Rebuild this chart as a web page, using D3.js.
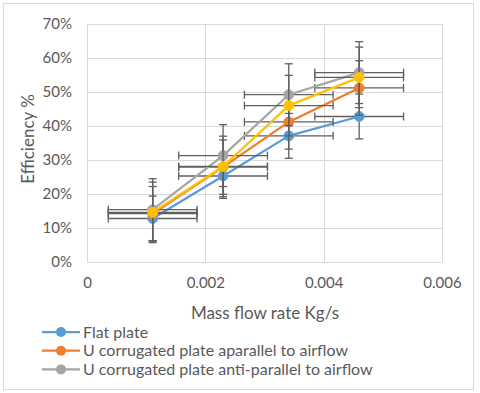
<!DOCTYPE html>
<html>
<head>
<meta charset="utf-8">
<script src="https://cdn.jsdelivr.net/npm/d3@7"></script>
<style>
html,body{margin:0;padding:0;background:#fff;}
svg{display:block;font-family:Lato,"Open Sans",sans-serif;}
</style>
</head>
<body>
<svg id="chart" width="480" height="393"></svg>
<script>
// ---- data ----
const massFlow = [0.00111, 0.00230, 0.00341, 0.00460];
const flatPlate = [12.8, 25.3, 37.1, 42.8];
const uParallel = [14.2, 27.9, 41.2, 51.2];
const uAntiParallel = [15.4, 31.3, 49.2, 55.7];
const series4 = [14.6, 28.1, 46.0, 54.3];
const seriesNames = ["Flat plate", "U corrugated plate aparallel to airflow", "U corrugated plate anti-parallel to airflow", ""];
const yErrors = [6.6, 8.0, 9.1, 8.9];   // ± efficiency (percentage points)
const xError = 0.00075;                 // ± mass flow rate
const yTicks = [0, 10, 20, 30, 40, 50, 60, 70];
const xTicks = [0, 0.002, 0.004, 0.006];
const colors = ["#5B9BD5", "#ED7D31", "#A5A5A5", "#FFC000"];

const allSeries = [flatPlate, uParallel, uAntiParallel, series4];

const svg = d3.select("#chart");
const plot = {left: 87, right: 442, top: 24, bottom: 262};

svg.append("rect").attr("x", 3.5).attr("y", 3.5).attr("width", 470).attr("height", 386)
  .attr("fill", "#fff").attr("stroke", "#D9D9D9").attr("stroke-width", 1);

const x = d3.scaleLinear().domain([0, 0.006]).range([plot.left, plot.right]);
const y = d3.scaleLinear().domain([0, 70]).range([plot.bottom, plot.top]);

// grid
const grid = svg.append("g");
grid.selectAll("line.h").data(yTicks).enter().append("line")
  .attr("x1", plot.left).attr("x2", plot.right)
  .attr("y1", d => Math.round(y(d)) + 0.5).attr("y2", d => Math.round(y(d)) + 0.5)
  .attr("stroke", "#D9D9D9").attr("stroke-width", 1);
grid.selectAll("line.v").data(xTicks).enter().append("line")
  .attr("y1", plot.top).attr("y2", plot.bottom)
  .attr("x1", d => Math.round(x(d)) + 0.5).attr("x2", d => Math.round(x(d)) + 0.5)
  .attr("stroke", "#D9D9D9").attr("stroke-width", 1);

// axes labels via d3 axes
const yAxis = d3.axisLeft(y).tickValues(yTicks).tickFormat(d => d + "%").tickSize(0).tickPadding(15);
const gy = svg.append("g").attr("transform", `translate(${plot.left},0)`).call(yAxis);
gy.select(".domain").remove();
gy.selectAll("text").attr("fill", "#595959").style("font-size", "15px").style("font-family", "Lato, sans-serif");

const xAxis = d3.axisBottom(x).tickValues(xTicks).tickFormat(d => d === 0 ? "0" : d3.format(".3f")(d)).tickSize(0).tickPadding(15);
const gx = svg.append("g").attr("transform", `translate(0,${plot.bottom})`).call(xAxis);
gx.select(".domain").remove();
gx.selectAll("text").attr("fill", "#595959").style("font-size", "15px").style("font-family", "Lato, sans-serif");

// axis titles
svg.append("text").attr("x", 265).attr("y", 319).attr("text-anchor", "middle")
  .attr("fill", "#595959").style("font-size", "17px").text("Mass flow rate Kg/s");
svg.append("text").attr("transform", "translate(34,139) rotate(-90)").attr("text-anchor", "middle")
  .attr("fill", "#595959").style("font-size", "17px").text("Efficiency %");

// series
const line = d3.line().x((d, i) => x(massFlow[i])).y(d => y(d));
const cap = 4;
allSeries.forEach((vals, si) => {
  const g = svg.append("g");
  const e = yErrors[si];
  const eb = g.append("g").attr("stroke", "#5F5F5F").attr("stroke-width", 1.3).attr("fill", "none");
  vals.forEach((v, i) => {
    const cx = x(massFlow[i]), cy = y(v);
    eb.append("line").attr("x1", cx).attr("x2", cx).attr("y1", y(v - e)).attr("y2", y(v + e));
    eb.append("line").attr("x1", cx - cap).attr("x2", cx + cap).attr("y1", y(v - e)).attr("y2", y(v - e));
    eb.append("line").attr("x1", cx - cap).attr("x2", cx + cap).attr("y1", y(v + e)).attr("y2", y(v + e));
    const xl = x(massFlow[i] - xError), xr = x(massFlow[i] + xError);
    eb.append("line").attr("x1", xl).attr("x2", xr).attr("y1", cy).attr("y2", cy);
    eb.append("line").attr("x1", xl).attr("x2", xl).attr("y1", cy - cap).attr("y2", cy + cap);
    eb.append("line").attr("x1", xr).attr("x2", xr).attr("y1", cy - cap).attr("y2", cy + cap);
  });
  g.append("path").datum(vals).attr("d", line).attr("fill", "none")
    .attr("stroke", colors[si]).attr("stroke-width", 2.25).attr("stroke-linejoin", "round");
  g.selectAll("circle").data(vals).enter().append("circle")
    .attr("cx", (d, i) => x(massFlow[i])).attr("cy", d => y(d)).attr("r", 5)
    .attr("fill", colors[si]).attr("stroke", colors[si]).attr("stroke-width", 0.75);
});

// legend
const legendRows = [0, 1, 2];
const lg = svg.append("g");
legendRows.forEach((si, k) => {
  const ly = 332 + k * 18.7;
  lg.append("line").attr("x1", 42).attr("x2", 80).attr("y1", ly).attr("y2", ly)
    .attr("stroke", colors[si]).attr("stroke-width", 2.25);
  lg.append("circle").attr("cx", 61).attr("cy", ly).attr("r", 5).attr("fill", colors[si]);
  lg.append("text").attr("x", 83).attr("y", ly).attr("dy", "0.35em")
    .attr("fill", "#595959").style("font-size", "16px").text(seriesNames[si]);
});
</script>
</body>
</html>
